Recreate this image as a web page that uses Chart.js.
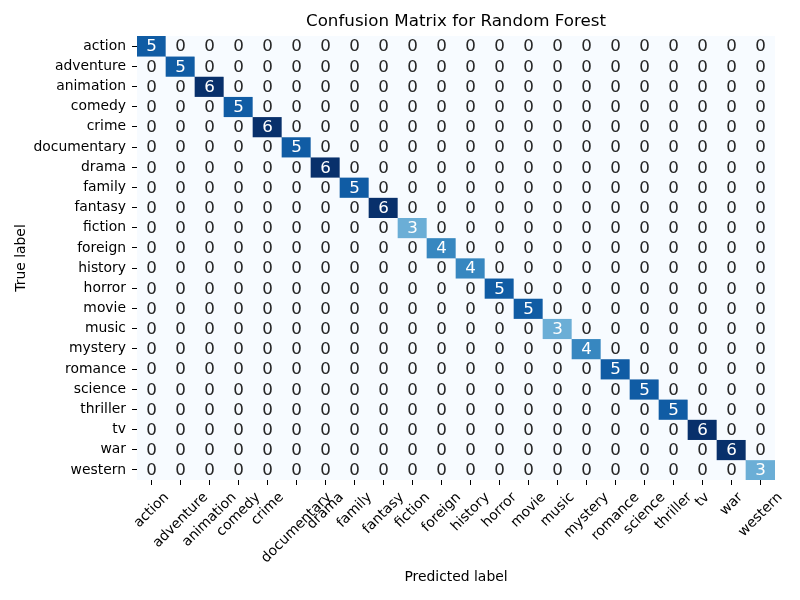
<!DOCTYPE html>
<html>
<head>
<meta charset="utf-8">
<script src="https://cdn.jsdelivr.net/npm/chart.js@4"></script>
<style>
  html, body { margin: 0; padding: 0; background: #fff; }
  #wrap { width: 800px; height: 600px; }
</style>
</head>
<body>
<div id="wrap"><canvas id="cm" width="800" height="600"></canvas></div>
<script>
// genres (same order on both axes)
const categories = [
  "action", "adventure", "animation", "comedy", "crime", "documentary",
  "drama", "family", "fantasy", "fiction", "foreign", "history", "horror",
  "movie", "music", "mystery", "romance", "science", "thriller", "tv",
  "war", "western"
];

// confusion matrix, rows = true label, cols = predicted label
const matrix = [
  [5,0,0,0,0,0,0,0,0,0,0,0,0,0,0,0,0,0,0,0,0,0],
  [0,5,0,0,0,0,0,0,0,0,0,0,0,0,0,0,0,0,0,0,0,0],
  [0,0,6,0,0,0,0,0,0,0,0,0,0,0,0,0,0,0,0,0,0,0],
  [0,0,0,5,0,0,0,0,0,0,0,0,0,0,0,0,0,0,0,0,0,0],
  [0,0,0,0,6,0,0,0,0,0,0,0,0,0,0,0,0,0,0,0,0,0],
  [0,0,0,0,0,5,0,0,0,0,0,0,0,0,0,0,0,0,0,0,0,0],
  [0,0,0,0,0,0,6,0,0,0,0,0,0,0,0,0,0,0,0,0,0,0],
  [0,0,0,0,0,0,0,5,0,0,0,0,0,0,0,0,0,0,0,0,0,0],
  [0,0,0,0,0,0,0,0,6,0,0,0,0,0,0,0,0,0,0,0,0,0],
  [0,0,0,0,0,0,0,0,0,3,0,0,0,0,0,0,0,0,0,0,0,0],
  [0,0,0,0,0,0,0,0,0,0,4,0,0,0,0,0,0,0,0,0,0,0],
  [0,0,0,0,0,0,0,0,0,0,0,4,0,0,0,0,0,0,0,0,0,0],
  [0,0,0,0,0,0,0,0,0,0,0,0,5,0,0,0,0,0,0,0,0,0],
  [0,0,0,0,0,0,0,0,0,0,0,0,0,5,0,0,0,0,0,0,0,0],
  [0,0,0,0,0,0,0,0,0,0,0,0,0,0,3,0,0,0,0,0,0,0],
  [0,0,0,0,0,0,0,0,0,0,0,0,0,0,0,4,0,0,0,0,0,0],
  [0,0,0,0,0,0,0,0,0,0,0,0,0,0,0,0,5,0,0,0,0,0],
  [0,0,0,0,0,0,0,0,0,0,0,0,0,0,0,0,0,5,0,0,0,0],
  [0,0,0,0,0,0,0,0,0,0,0,0,0,0,0,0,0,0,5,0,0,0],
  [0,0,0,0,0,0,0,0,0,0,0,0,0,0,0,0,0,0,0,6,0,0],
  [0,0,0,0,0,0,0,0,0,0,0,0,0,0,0,0,0,0,0,0,6,0],
  [0,0,0,0,0,0,0,0,0,0,0,0,0,0,0,0,0,0,0,0,0,3]
];

const FONT = "'DejaVu Sans', sans-serif";

// ── matplotlib "Blues" ──
const BLUES = ["#f7fbff","#deebf7","#c6dbef","#9ecae1","#6baed6","#4292c6","#2171b5","#08519c","#08306b"];
function hexRgb(h) {
  return [1, 3, 5].map(i => parseInt(h.slice(i, i + 2), 16));
}
function blues(t) {
  t = Math.max(0, Math.min(1, t));
  const p = t * (BLUES.length - 1);
  const i = Math.min(Math.floor(p), BLUES.length - 2);
  const f = p - i;
  const a = hexRgb(BLUES[i]), b = hexRgb(BLUES[i + 1]);
  return a.map((v, k) => Math.round(v + (b[k] - v) * f));
}
function luminance(rgb) {
  const c = rgb.map(v => {
    v /= 255;
    return v <= 0.03928 ? v / 12.92 : Math.pow((v + 0.055) / 1.055, 2.4);
  });
  return 0.2126 * c[0] + 0.7152 * c[1] + 0.0722 * c[2];
}
const vmin = Math.min(...matrix.flat());
const vmax = Math.max(...matrix.flat());
const cellRgb = v => blues((v - vmin) / (vmax - vmin));
const rgbStr = c => `rgb(${c[0]},${c[1]},${c[2]})`;

// one floating-bar dataset per true-label row
const datasets = categories.map((name, r) => ({
  label: name,
  data: categories.map(() => [r, r + 1]),
  backgroundColor: matrix[r].map(v => rgbStr(cellRgb(v))),
  borderWidth: 0,
  grouped: false,
  barPercentage: 1,
  categoryPercentage: 1
}));

// ── plugin: cell background, annotations, x labels, axis titles ──
const heatText = {
  id: "heatText",
  beforeDatasetsDraw(chart) {
    const { ctx, chartArea: a } = chart;
    ctx.save();
    ctx.fillStyle = rgbStr(cellRgb(vmin));
    ctx.fillRect(a.left, a.top, a.right - a.left, a.bottom - a.top);
    ctx.restore();
  },
  afterDatasetsDraw(chart) {
    const { ctx } = chart;
    ctx.save();
    ctx.font = `16.7px ${FONT}`;
    ctx.textAlign = "center";
    ctx.textBaseline = "middle";
    chart.data.datasets.forEach((ds, r) => {
      chart.getDatasetMeta(r).data.forEach((el, c) => {
        const v = matrix[r][c];
        ctx.fillStyle = luminance(cellRgb(v)) > 0.408 ? "#262626" : "#ffffff";
        ctx.fillText(String(v), el.x, (el.y + el.base) / 2 + 1);
      });
    });
    ctx.restore();
  },
  afterDraw(chart) {
    const { ctx, chartArea: a } = chart;
    const xs = chart.scales.x;
    ctx.save();
    ctx.fillStyle = "#000";
    ctx.font = `13.9px ${FONT}`;
    ctx.textAlign = "center";
    ctx.textBaseline = "middle";
    const h = 13.9 * 1.17;
    categories.forEach((lab, i) => {
      const px = xs.getPixelForValue(i);
      const w = ctx.measureText(lab).width;
      const half = (w + h) * Math.SQRT1_2 / 2;
      ctx.save();
      ctx.translate(px, a.bottom + 9.4 + half);
      ctx.rotate(-Math.PI / 4);
      ctx.fillText(lab, 0, 0);
      ctx.restore();
    });
    // axis titles
    ctx.fillText("Predicted label", (a.left + a.right) / 2, 577);
    ctx.save();
    ctx.translate(21, (a.top + a.bottom) / 2);
    ctx.rotate(-Math.PI / 2);
    ctx.fillText("True label", 0, 0);
    ctx.restore();
    ctx.restore();
  }
};

new Chart(document.getElementById("cm"), {
  type: "bar",
  data: { labels: categories, datasets },
  options: {
    responsive: false,
    animation: false,
    devicePixelRatio: 1,
    layout: { padding: { left: 0, right: 25, top: 0, bottom: 0 } },
    plugins: {
      legend: { display: false },
      tooltip: { enabled: false },
      title: {
        display: true,
        text: "Confusion Matrix for Random Forest",
        color: "#000",
        fullSize: false,
        font: { family: FONT, size: 16.7, weight: "normal" },
        padding: { top: 12, bottom: 4 }
      }
    },
    scales: {
      x: {
        type: "category",
        offset: true,
        border: { display: false },
        grid: { offset: false, drawOnChartArea: false, drawTicks: true, tickLength: 5, color: "#000", lineWidth: 1 },
        ticks: { display: false },
        afterFit(scale) { scale.height = 120; }
      },
      y: {
        type: "linear",
        min: 0,
        max: categories.length,
        reverse: true,
        border: { display: false },
        grid: { drawOnChartArea: false, drawTicks: true, tickLength: 5, color: "#000", lineWidth: 1 },
        afterBuildTicks(scale) {
          scale.ticks = categories.map((_, i) => ({ value: i + 0.5 }));
        },
        ticks: {
          autoSkip: false,
          padding: 6,
          color: "#000",
          font: { family: FONT, size: 13.9 },
          callback: v => categories[Math.floor(v)]
        },
        afterFit(scale) { scale.width = 137; }
      }
    }
  },
  plugins: [heatText]
});
</script>
</body>
</html>
